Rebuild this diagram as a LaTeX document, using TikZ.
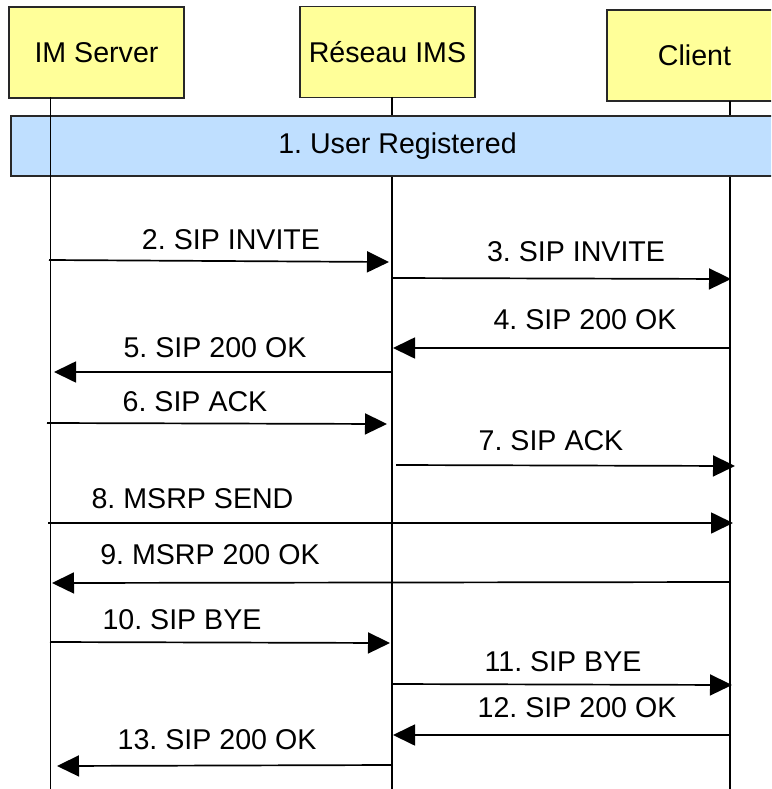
\documentclass[tikz,border=0pt]{standalone}
\usepackage{fontspec}
\setmainfont{Liberation Sans}
\usetikzlibrary{arrows.meta}
\definecolor{hdrfill}{RGB}{255,255,153}
\definecolor{barfill}{RGB}{191,223,255}
\definecolor{edge}{RGB}{40,40,40}
\begin{document}
\begin{tikzpicture}[x=1pt,y=-1pt,
  every node/.style={font=\fontsize{28.6}{34}\selectfont\frenchspacing},
  actor/.style={draw=edge, line width=1.6pt, fill=hdrfill,
    minimum width=175pt, minimum height=91pt, inner sep=0pt},
  phase/.style={draw=edge, line width=1.6pt, fill=barfill,
    minimum width=773pt, minimum height=60pt, inner sep=0pt},
  lifeline/.style={line width=1.7pt},
  msg/.style={line width=1.7pt, -{Triangle[length=22pt,width=21pt]}},
  lbl/.style={anchor=base, inner sep=0pt}]
\useasboundingbox (0,0) rectangle (771,789);
\clip (0,0) rectangle (771,789);

% participants
\node[actor] (ims)  at (96.5,52.5) {IM Server};
\node[actor] (net)  at (387.5,52)  {Réseau IMS};
\node[actor] (cli)  at (694.5,55.5) {Client};

% lifeline ends
\coordinate (imsT) at (50.5,97);  \coordinate (imsB) at (50.5,789);
\coordinate (netT) at (392,97);   \coordinate (netB) at (392,789);
\coordinate (cliT) at (730,101);  \coordinate (cliB) at (730,789);

\draw[lifeline] (netT) -- (netB);
\draw[lifeline] (cliT) -- (cliB);

% registration phase bar
\node[phase] (reg) at (397.5,146) {1. User Registered};

\draw[lifeline] (imsT) -- (imsB);

% message end points
\coordinate (a2) at (49,260);  \coordinate (b2) at (389,262);
\coordinate (a3) at (392,278); \coordinate (b3) at (731,279);
\coordinate (a4) at (729,348); \coordinate (b4) at (393,348);
\coordinate (a5) at (391,372); \coordinate (b5) at (54,372);
\coordinate (a6) at (47,423);  \coordinate (b6) at (387,424);
\coordinate (a7) at (396,465); \coordinate (b7) at (735,466);
\coordinate (a8) at (48,523);  \coordinate (b8) at (733,523);
\coordinate (a9) at (730,582); \coordinate (b9) at (52,583);
\coordinate (a10) at (50,642); \coordinate (b10) at (390,643);
\coordinate (a11) at (392,684); \coordinate (b11) at (732,685);
\coordinate (a12) at (730,735); \coordinate (b12) at (393,735);
\coordinate (a13) at (392,765); \coordinate (b13) at (57,766);

\foreach \i in {2,...,13} \draw[msg] (a\i) -- (b\i);

% message labels
\node[lbl] (l2)  at (231,249)   {2. SIP INVITE};
\node[lbl] (l3)  at (576,261)   {3. SIP INVITE};
\node[lbl] (l4)  at (585,329)   {4. SIP 200 OK};
\node[lbl] (l5)  at (215,357)   {5. SIP 200 OK};
\node[lbl] (l6)  at (195,411)   {6. SIP ACK};
\node[lbl] (l7)  at (551,450)   {7. SIP ACK};
\node[lbl] (l8)  at (192.5,508) {8. MSRP SEND};
\node[lbl] (l9)  at (210,564)   {9. MSRP 200 OK};
\node[lbl] (l10) at (182,629)   {10. SIP BYE};
\node[lbl] (l11) at (563,671)   {11. SIP BYE};
\node[lbl] (l12) at (577,717)   {12. SIP 200 OK};
\node[lbl] (l13) at (217,749)   {13. SIP 200 OK};
\end{tikzpicture}
\end{document}
